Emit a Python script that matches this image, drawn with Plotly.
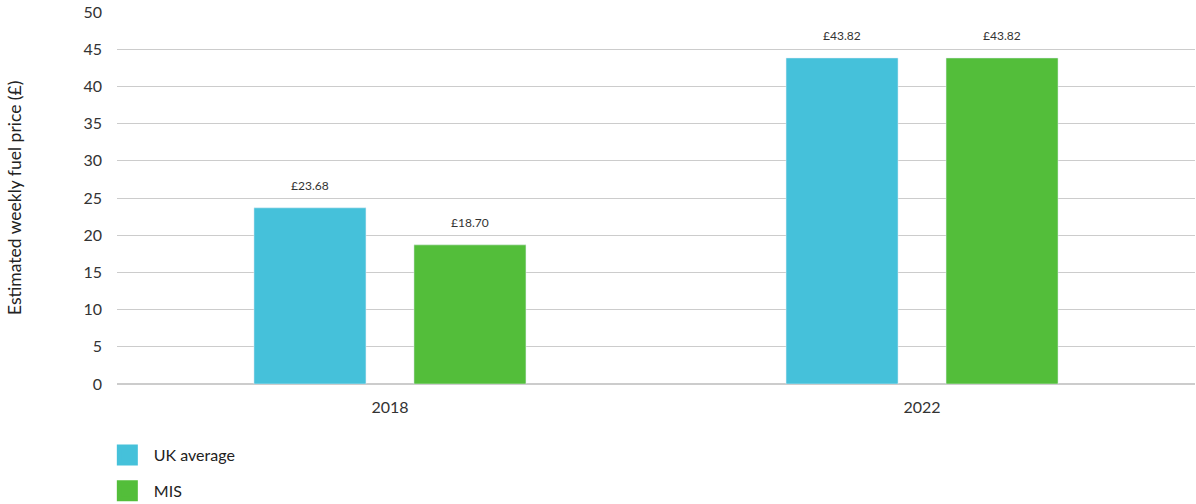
import plotly.graph_objects as go

years = ["2018", "2022"]
uk_average = [23.68, 43.82]
mis = [18.70, 43.82]
series_names = ["UK average", "MIS"]
colors = ["#45C1DA", "#53BE3A"]
label_font = "Lato, 'Open Sans', sans-serif"

fig = go.Figure()
half = 0.2105
offsets = [-0.2556, 0.0451]
centers = [-0.150, 0.150]
for name, vals, col, off in zip(series_names, [uk_average, mis], colors, offsets):
    fig.add_trace(go.Bar(
        x=years, y=vals, name=name, marker_color=col, width=half, offset=off,
        showlegend=False, hoverinfo="x+y"))
    # legend entry with a larger square swatch
    fig.add_trace(go.Scatter(
        x=[None], y=[None], mode="markers", name=name, legendgroup=name,
        marker=dict(symbol="square", size=16, color=col, line=dict(color=col, width=6))))

for vals, c in zip([uk_average, mis], centers):
    for i, v in enumerate(vals):
        fig.add_annotation(x=i + c, y=v, text=f"£{v:.2f}", showarrow=False,
                           yshift=22, font=dict(size=12, color="#333"))

fig.add_annotation(xref="paper", yref="paper", x=-0.0955, y=0.5, xanchor="center",
                   yanchor="middle", textangle=-90, showarrow=False,
                   text="Estimated weekly fuel price (£)",
                   font=dict(size=17.5, color="#222"))

fig.update_layout(
    width=1196, height=504,
    margin=dict(l=117, r=1, t=12, b=120),
    plot_bgcolor="white", paper_bgcolor="white",
    font=dict(family=label_font, color="#333"),
    barmode="group",
    showlegend=True,
    legend=dict(orientation="v", x=-0.015, xanchor="left", yref="container",
                y=0.1308, yanchor="top",
                font=dict(size=16, color="#222"), traceorder="grouped",
                tracegroupgap=12, itemwidth=43),
    xaxis=dict(type="category", range=[-0.513, 1.513], showgrid=False,
               showline=True, linecolor="#ccc", ticks="", tickfont=dict(size=16),
               ticklabelstandoff=9, automargin=False),
    yaxis=dict(range=[0, 50], dtick=5, showgrid=True, gridcolor="#ccc",
               zeroline=True, zerolinecolor="#ccc", tickfont=dict(size=16),
               ticklabelstandoff=14, automargin=False, ticklabeloverflow="allow"),
)
fig.write_html("out.html", config={"displayModeBar": False},
               post_script="document.body.style.margin='0';document.body.style.overflow='hidden';")
